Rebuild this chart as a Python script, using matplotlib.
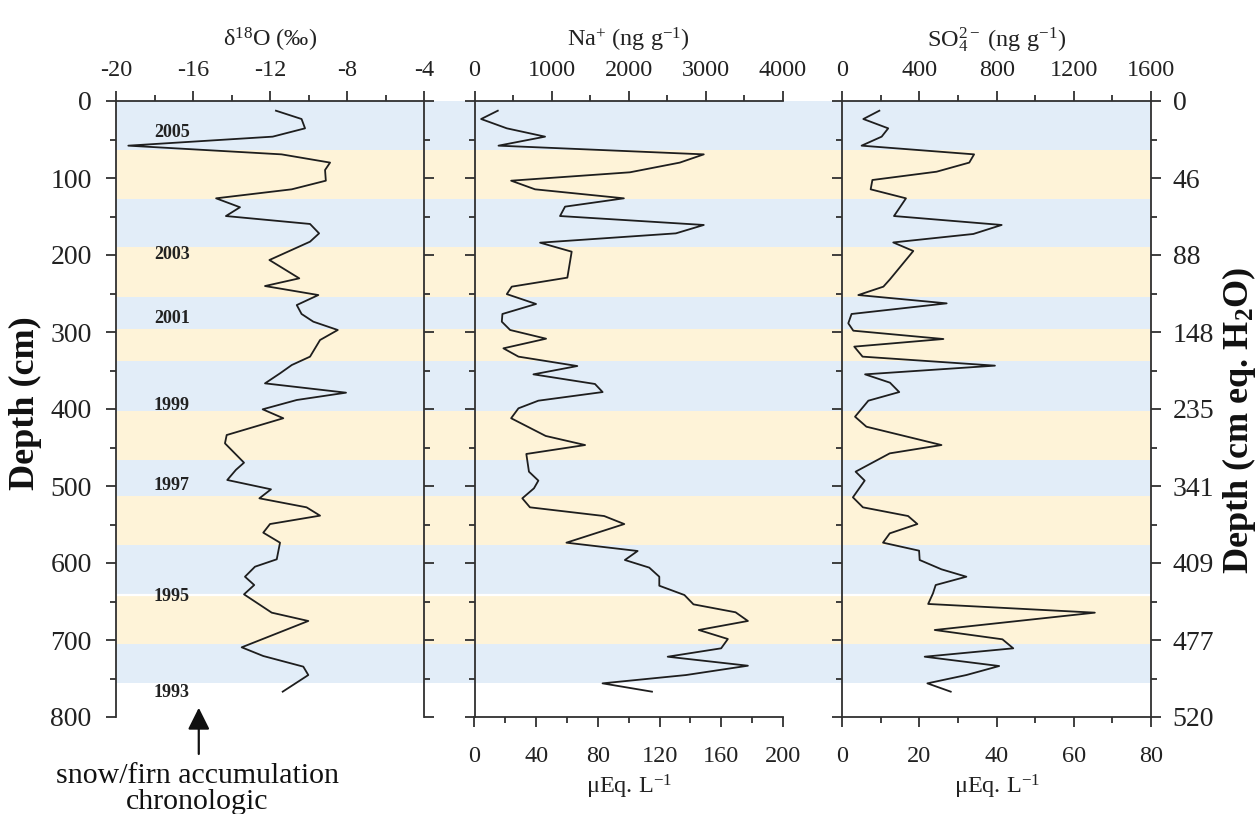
import matplotlib
matplotlib.use('Agg')
import matplotlib.pyplot as plt
from matplotlib.ticker import MultipleLocator

plt.rcParams['font.family'] = ['Liberation Serif', 'DejaVu Serif']
plt.rcParams['mathtext.fontset'] = 'custom'
plt.rcParams['mathtext.rm'] = 'Liberation Serif'
plt.rcParams['mathtext.it'] = 'Liberation Serif:italic'
plt.rcParams['mathtext.bf'] = 'Liberation Serif:bold'
plt.rcParams['axes.unicode_minus'] = False

# ---------------- data ----------------
d18o_depth = [12.6, 23.4, 35.5, 46.3, 58.0, 69.3, 80.0, 89.6, 103.5, 114.7, 126.4, 138.0, 149.4, 159.7,
              171.9, 182.7, 206.5, 230.3, 240.3, 252.0, 265.0, 276.6, 286.6, 297.4, 310.4, 332.0, 342.9,
              353.7, 366.7, 378.8, 388.3, 400.4, 412.0, 433.8, 444.6, 469.7, 479.0, 492.2, 504.3, 516.0,
              527.7, 538.5, 549.4, 560.6, 573.6, 595.2, 604.8, 617.8, 628.6, 640.7, 664.5, 675.3, 709.5,
              720.8, 734.6, 745.5, 767.1]
d18o = [-11.69, -10.36, -10.18, -11.86, -19.36, -11.40, -8.88, -9.14, -9.10, -10.87, -14.80, -13.56,
        -14.29, -9.92, -9.45, -9.92, -12.03, -10.48, -12.26, -9.49, -10.61, -10.36, -9.75, -8.48, -9.40,
        -9.92, -10.87, -11.48, -12.26, -8.05, -10.61, -12.38, -11.31, -14.25, -14.34, -13.35, -13.77,
        -14.22, -11.95, -12.55, -10.10, -9.40, -12.00, -12.35, -11.48, -11.65, -12.78, -13.30, -12.82,
        -13.35, -11.91, -10.01, -13.47, -12.35, -10.27, -10.01, -11.34]

na_depth = [12.6, 23.4, 35.5, 46.3, 58.0, 69.3, 80.0, 92.6, 103.5, 114.7, 126.4, 137.2, 149.4, 161.0,
            171.9, 184.0, 195.7, 229.4, 241.1, 250.8, 263.6, 276.6, 286.6, 297.4, 308.7, 321.2, 332.0,
            344.2, 355.0, 367.5, 378.0, 389.2, 399.1, 412.0, 435.0, 446.8, 458.4, 481.4, 493.0, 503.0,
            516.0, 527.7, 539.0, 549.4, 573.6, 584.4, 596.1, 606.0, 617.8, 629.5, 641.6, 653.7, 664.0,
            675.3, 687.0, 698.7, 710.8, 721.7, 733.4, 745.5, 756.3, 767.1]
na = [302, 86, 419, 915, 311, 2973, 2662, 2015, 475, 785, 1937, 1174, 1109, 2973, 2611, 850, 1260, 1204,
      483, 419, 798, 362, 354, 462, 928, 375, 570, 1333, 764, 1562, 1661, 828, 570, 475, 923, 1434, 672,
      706, 828, 771, 620, 719, 1681, 1942, 1192, 2115, 1950, 2266, 2396, 2396, 2722, 2839, 3385, 3545,
      2908, 3285, 3198, 2505, 3545, 2743, 1660, 2301]

so4_depth = [12.6, 23.4, 35.5, 46.3, 58.0, 69.3, 80.0, 91.8, 102.6, 114.7, 126.4, 149.4, 161.0, 172.7,
             183.7, 194.8, 231.6, 241.1, 252.0, 262.8, 276.6, 288.7, 298.3, 309.1, 319.0, 332.0, 343.7,
             355.0, 365.8, 378.0, 389.2, 410.0, 423.0, 446.8, 457.6, 481.4, 493.0, 514.7, 527.7, 539.0,
             549.4, 561.5, 573.6, 584.0, 596.1, 608.2, 617.8, 628.6, 639.4, 653.2, 664.5, 687.0, 699.1,
             710.8, 721.7, 733.8, 745.5, 756.3, 767.1]
so4 = [192, 109, 238, 204, 100, 683, 658, 489, 156, 147, 330, 268, 826, 679, 264, 368, 247, 213, 83, 541,
       48, 31, 57, 524, 62, 105, 791, 118, 247, 295, 135, 66, 125, 514, 246, 69, 116, 55, 107, 341, 389,
       246, 211, 398, 401, 514, 643, 484, 470, 445, 1309, 479, 830, 886, 427, 813, 643, 441, 562]

band_edges = [0, 64, 127, 190, 254, 296, 338, 402, 466, 513, 577, 641, 705, 756]
year_labels = ['2005', '2003', '2001', '1999', '1997', '1995', '1993']
year_depths = [41, 199, 283, 395, 500, 644, 768]
depth_ticks = [0, 100, 200, 300, 400, 500, 600, 700, 800]
weq_labels = ['0', '46', '88', '148', '235', '341', '409', '477', '520']

# ---------------- layout ----------------
W, H = 1259, 814
fig = plt.figure(figsize=(W / 100, H / 100), dpi=100)
TOP, BOT = 101, 717


def rect(x0, x1):
    return [x0 / W, 1 - BOT / H, (x1 - x0) / W, (BOT - TOP) / H]


BLUE = '#E2EDF8'
YELLOW = '#FEF3D8'
LINE = '#1e1e1e'
SPC = '#303030'
TXT = '#222222'
XS = 17.5   # x tick label size
YS = 20     # y tick label size

# background bands
bg = fig.add_axes(rect(116, 1151), zorder=0)
bg.set_xlim(0, 1)
bg.set_ylim(800, 0)
bg.axis('off')
for i in range(len(band_edges) - 1):
    bg.axhspan(band_edges[i], band_edges[i + 1], color=BLUE if i % 2 == 0 else YELLOW, lw=0)
bg.axhline(641, color='white', lw=1.6)

axes = []
for (x0, x1) in [(116, 424), (474.5, 783), (842.3, 1151)]:
    a = fig.add_axes(rect(x0, x1), zorder=2)
    a.patch.set_alpha(0)
    a.set_ylim(800, 0)
    a.yaxis.set_major_locator(MultipleLocator(100))
    a.yaxis.set_minor_locator(MultipleLocator(50))
    for s in a.spines.values():
        s.set_color(SPC)
        s.set_linewidth(1.3)
    a.tick_params(which='both', direction='out', color=SPC, width=1.3, labelcolor=TXT)
    a.tick_params(axis='x', labelsize=XS)
    a.tick_params(axis='y', labelsize=YS)
    a.tick_params(which='major', length=7.5)
    a.tick_params(which='minor', length=4)
    a.xaxis.set_ticks_position('top')
    a.tick_params(axis='x', which='both', top=True, bottom=False, labeltop=True,
                  labelbottom=False, pad=7)
    axes.append(a)

ax1, ax2, ax3 = axes

# panel 1: d18O
ax1.plot(d18o, d18o_depth, color=LINE, lw=1.3)
ax1.set_xlim(-20, -4)
ax1.xaxis.set_major_locator(MultipleLocator(4))
ax1.xaxis.set_minor_locator(MultipleLocator(2))
ax1.spines['bottom'].set_visible(False)
ax1.set_yticks(depth_ticks)
ax1.tick_params(axis='y', which='both', left=True, right=True, labelleft=True, labelright=False, pad=10)
for lbl, d in zip(year_labels, year_depths):
    ax1.text(-17.1, d, lbl, ha='center', va='center', fontsize=13, fontweight='bold', color=TXT)
ax1.text(0.5, 1.099, 'δ$^{18}$O (‰)', transform=ax1.transAxes, ha='center', va='center',
         fontsize=XS, color=TXT)
ax1.annotate('', xy=(-15.7, 788), xytext=(-15.7, 848),
             arrowprops=dict(arrowstyle='-|>,head_length=0.6,head_width=0.3', color='#111111',
                             lw=1.6, mutation_scale=22, shrinkA=0, shrinkB=0),
             annotation_clip=False)

# panel 2: Na+
ax2.plot(na, na_depth, color=LINE, lw=1.3)
ax2.set_xlim(0, 4000)
ax2.xaxis.set_major_locator(MultipleLocator(1000))
ax2.xaxis.set_minor_locator(MultipleLocator(500))
ax2.spines['right'].set_visible(False)
ax2.tick_params(axis='y', which='both', left=True, right=False, labelleft=False, labelright=False)
ax2.text(0.5, 1.099, 'Na$^{+}$ (ng g$^{-1}$)', transform=ax2.transAxes, ha='center', va='center',
         fontsize=XS, color=TXT)

# panel 3: SO4
ax3.plot(so4, so4_depth, color=LINE, lw=1.3)
ax3.set_xlim(0, 1600)
ax3.xaxis.set_major_locator(MultipleLocator(400))
ax3.xaxis.set_minor_locator(MultipleLocator(200))
ax3.set_yticks(depth_ticks)
ax3.set_yticklabels(weq_labels)
ax3.tick_params(axis='y', which='both', left=True, right=True, labelleft=False, labelright=True, pad=8)
ax3.text(0.5, 1.099, 'SO$_4^{2-}$ (ng g$^{-1}$)', transform=ax3.transAxes, ha='center', va='center',
         fontsize=XS, color=TXT)

# bottom µEq/L axes
for a in (ax2, ax3):
    a.spines['bottom'].set_visible(False)
    sec = a.secondary_xaxis('bottom', functions=(lambda x: x * 0.05, lambda x: x / 0.05))
    sec.spines['bottom'].set_color(SPC)
    sec.spines['bottom'].set_linewidth(1.3)
    sec.tick_params(which='both', direction='out', color=SPC, width=1.3, labelsize=XS,
                    labelcolor=TXT, pad=14)
    sec.tick_params(which='major', length=7)
    sec.tick_params(which='minor', length=4)
    a.text(0.5, -0.1136, 'μEq. L$^{-1}$', transform=a.transAxes, ha='center', va='center',
           fontsize=XS, color=TXT)
    if a is ax2:
        sec.xaxis.set_major_locator(MultipleLocator(40))
        sec.xaxis.set_minor_locator(MultipleLocator(20))
    else:
        sec.xaxis.set_major_locator(MultipleLocator(20))
        sec.xaxis.set_minor_locator(MultipleLocator(10))

# axis labels
fig.text(25 / W, 1 - 403 / H, 'Depth (cm)', rotation=90, ha='center', va='center',
         fontsize=26, fontweight='bold', color='#111111')
fig.text(1239 / W, 1 - 420 / H, 'Depth (cm eq. H$_\\mathbf{2}$O)', rotation=90, ha='center',
         va='center', fontsize=26, fontweight='bold', color='#111111')
fig.text(197 / W, 1 - 789 / H, 'snow/firn accumulation\nchronologic', ha='center', va='center',
         fontsize=21.5, linespacing=1.02, color='#111111')

fig.savefig('out.png', dpi=100)
